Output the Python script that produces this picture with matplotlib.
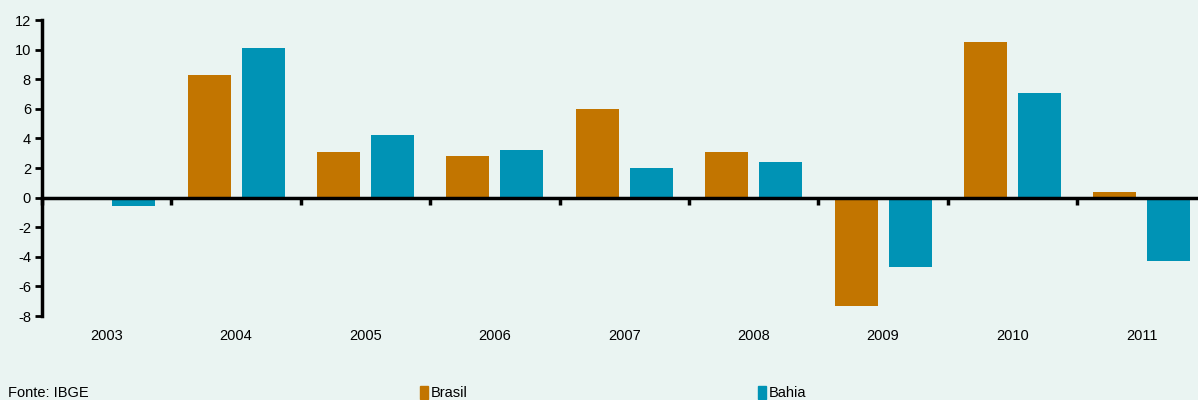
import matplotlib
matplotlib.use("Agg")
import matplotlib.pyplot as plt
import matplotlib.transforms as mtransforms
from matplotlib.patches import Patch
import numpy as np

years = ["2003", "2004", "2005", "2006", "2007", "2008", "2009", "2010", "2011"]
brasil = [0.0, 8.3, 3.1, 2.8, 6.0, 3.1, -7.3, 10.5, 0.4]
bahia = [-0.6, 10.1, 4.2, 3.2, 2.0, 2.4, -4.7, 7.1, -4.3]
yticks = [-8, -6, -4, -2, 0, 2, 4, 6, 8, 10, 12]

c_brasil = "#C27500"
c_bahia = "#0093B5"
bg = "#EAF4F2"

plt.rcParams["font.family"] = ["Liberation Sans", "DejaVu Sans"]

W, H = 1198, 400
fig = plt.figure(figsize=(W / 100, H / 100), dpi=100, facecolor=bg)
left = 42 / W
right = 1206.6 / W
bottom = 1 - 316 / H
top = 1 - 20 / H
ax = fig.add_axes([left, bottom, right - left, top - bottom], facecolor=bg)

x = np.arange(len(years))
bw = 0.332
off = 0.209
ax.bar(x - off, brasil, width=bw, color=c_brasil, label="Brasil", zorder=2)
ax.bar(x + off, bahia, width=bw, color=c_bahia, label="Bahia", zorder=2)

ax.set_xlim(-0.5, len(years) - 0.5)
ax.set_ylim(-8, 12)
ax.set_yticks(yticks)
ax.set_yticklabels([str(v) for v in yticks], fontsize=10.5)
ax.tick_params(axis="y", direction="out", length=5, width=2, pad=3, colors="black")

for s in ["top", "right"]:
    ax.spines[s].set_visible(False)
ax.spines["left"].set_linewidth(2.5)
ax.spines["bottom"].set_position(("data", 0))
ax.spines["bottom"].set_linewidth(2.5)
ax.spines["bottom"].set_zorder(3)
ax.set_xticks(np.arange(len(years) + 1) - 0.5)
ax.tick_params(axis="x", direction="out", length=5, width=2.5, labelbottom=False)

trans = mtransforms.blended_transform_factory(ax.transData, ax.transAxes)
for xi, lab in zip(x, years):
    ax.text(xi, -0.045, lab, transform=trans, ha="center", va="top", fontsize=10.5)

fig.text(8 / W, 1 - 386 / H, "Fonte: IBGE", ha="left", va="top", fontsize=10.5)

handles = [Patch(color=c_brasil), Patch(color=c_bahia)]
fig.legend(handles, ["Brasil", "Bahia"], ncol=2, loc="upper left",
           bbox_to_anchor=(408 / W, 1 - 374 / H), frameon=False, fontsize=10.5,
           handlelength=0.6, handleheight=1.0, handletextpad=0.15,
           columnspacing=19.9, borderpad=0.3)

fig.savefig("out.png", dpi=100, facecolor=bg)
